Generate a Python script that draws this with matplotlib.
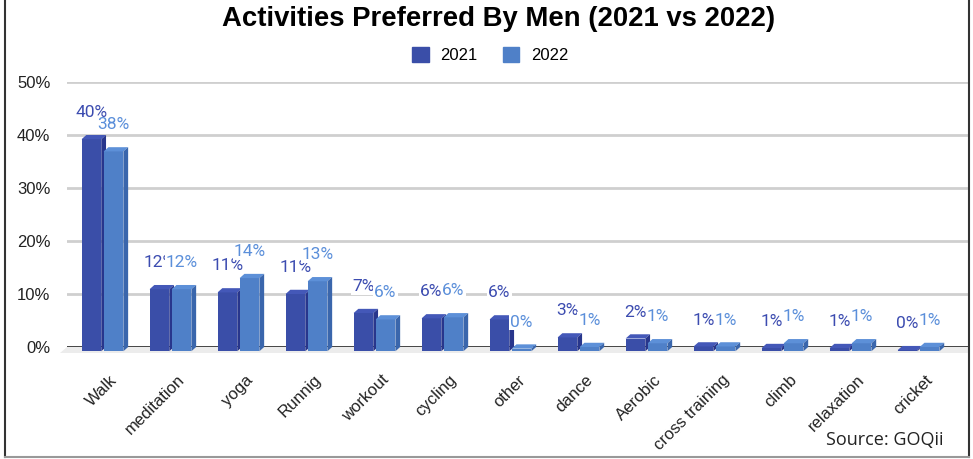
import numpy as np
import matplotlib
matplotlib.use("Agg")
from matplotlib import pyplot as plt
from matplotlib.patches import Polygon, Patch
from matplotlib.lines import Line2D

# chart data
activities = ["Walk", "meditation", "yoga", "Runnig", "workout", "cycling", "other",
              "dance", "Aerobic", "cross training", "climb", "relaxation", "cricket"]
men_2021 = [40.0, 11.7, 11.1, 10.8, 7.2, 6.2, 6.0, 2.6, 2.4, 0.9, 0.6, 0.6, 0.2]
men_2022 = [37.7, 11.7, 13.8, 13.2, 6.0, 6.4, 0.5, 0.8, 1.5, 0.9, 1.5, 1.5, 0.8]
labels_2021 = [40, 12, 11, 11, 7, 6, 6, 3, 2, 1, 1, 1, 0]
labels_2022 = [38, 12, 14, 13, 6, 6, 0, 1, 1, 1, 1, 1, 1]
years = ["2021", "2022"]
yticks = [0, 10, 20, 30, 40, 50]

# colours: front, top, side, label
col_2021 = ("#3a4ea8", "#4458b8", "#28368c", "#3c4cb0")
col_2022 = ("#4f80c8", "#5d90d8", "#3a66ac", "#5b8fda")

W, H = 973, 459
fig = plt.figure(figsize=(W / 100, H / 100), dpi=100)
ax = fig.add_axes([67 / W, 112 / H, (968 - 67) / W, (347 - 82) / H])
ax.set_ylim(0, 50)
ax.set_xlim(-0.559, 12.69)

bw = 0.29     # front face width
dx = 0.07     # depth in x
dy = 0.8      # depth in y

x = np.arange(len(activities))

# floor strip under the zero line
x0f, x1f = ax.get_xlim()
ax.add_patch(Polygon([(x0f - 0.1, -dy - 0.3), (x1f, -dy - 0.3), (x1f, 0), (x0f, 0)],
                     closed=True, facecolor="#ececec", edgecolor="none",
                     clip_on=False, zorder=1))

for yv in yticks[1:]:
    ax.axhline(yv, color="#cfcfcf", lw=2, zorder=1)
ax.axhline(0, color="#333333", lw=2, zorder=2)


def draw_3d(xs, vals, cols):
    front, top, side = cols[0], cols[1], cols[2]
    ax.bar(xs, vals, width=bw, bottom=-dy, align="edge", color=front,
           edgecolor="none", clip_on=False, zorder=3)
    for xl, v in zip(xs, vals):
        ax.add_patch(Polygon([(xl, v - dy), (xl + bw, v - dy), (xl + bw + dx, v), (xl + dx, v)],
                             closed=True, facecolor=top, edgecolor="none",
                             clip_on=False, zorder=3))
        ax.add_patch(Polygon([(xl + bw, -dy), (xl + bw + dx, 0), (xl + bw + dx, v), (xl + bw, v - dy)],
                             closed=True, facecolor=side, edgecolor="none",
                             clip_on=False, zorder=3))


x2021 = x - 0.345
x2022 = x - 0.02
draw_3d(x2021, men_2021, col_2021)
draw_3d(x2022, men_2022, col_2022)

# value labels (2022 drawn on top of 2021)
for xs, vals, labs, cols, z in [(x2021, men_2021, labels_2021, col_2021, 5),
                                (x2022, men_2022, labels_2022, col_2022, 6)]:
    for xl, v, lab in zip(xs, vals, labs):
        ax.annotate(str(lab) + "%", (xl + bw / 2, v), xytext=(0, 16),
                    textcoords="offset points", ha="center", va="center",
                    fontsize=12.5, family="Roboto", color=cols[3], zorder=z,
                    bbox=dict(boxstyle="square,pad=0.05", fc="white", ec="none"),
                    annotation_clip=False)

ax.set_yticks(yticks)
ax.set_yticklabels([str(t) + "%" for t in yticks], family="Liberation Sans",
                   fontsize=12, color="#222222")
ax.set_xticks(x + 0.14)
ax.set_xticklabels(activities, rotation=45, ha="right", va="center",
                   rotation_mode="anchor", family="Liberation Sans",
                   fontsize=12, color="#222222")
ax.tick_params(axis="both", length=0)
ax.tick_params(axis="y", pad=12)
ax.tick_params(axis="x", pad=22)
for s in ax.spines.values():
    s.set_visible(False)
ax.patch.set_alpha(0)

fig.text(0.512, 0.958, "Activities Preferred By Men (2021 vs 2022)", ha="center",
         va="center", fontsize=19.8, fontweight="bold", family="Liberation Sans")

handles = [Patch(color=col_2021[0]), Patch(color=col_2022[0])]
fig.legend(handles, years, ncol=2, loc="center", bbox_to_anchor=(0.504, 0.88),
           frameon=False, prop={"family": "Liberation Sans", "size": 12},
           handlelength=1, handleheight=1, handletextpad=0.7, columnspacing=1.5)

fig.text(943 / W, 1 - 445 / H, "Source: GOQii", ha="right", va="baseline",
         fontsize=13, family="Open Sans", color="#222222")

# frame around the picture
fig.add_artist(Line2D([5 / W, 5 / W], [1 - 457 / H, 1], color="#333333", lw=1.5))
fig.add_artist(Line2D([969 / W, 969 / W], [1 - 457 / H, 1], color="#333333", lw=1.5))
fig.add_artist(Line2D([5 / W, 969 / W], [1 - 457 / H, 1 - 457 / H], color="#999999", lw=1.5))

fig.savefig("out.png", dpi=100)
